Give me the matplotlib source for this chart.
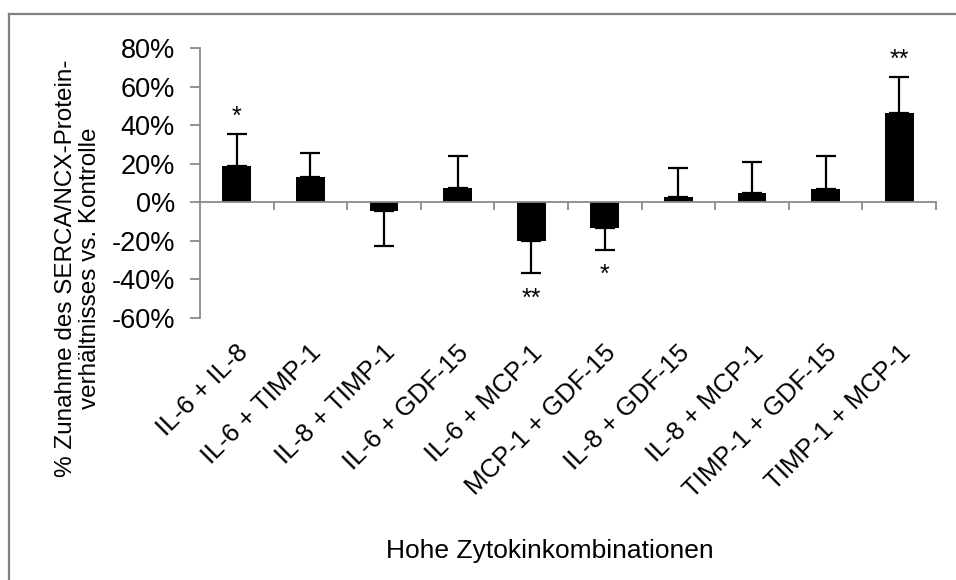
import matplotlib.pyplot as plt
from matplotlib.lines import Line2D
import matplotlib.transforms as mtransforms

plt.rcParams['font.family'] = ['Liberation Sans', 'DejaVu Sans']

# Zytokinkombinationen und Zunahme SERCA/NCX (%), Mittelwert + SEM
kombinationen = ['IL-6 + IL-8', 'IL-6 + TIMP-1', 'IL-8 + TIMP-1', 'IL-6 + GDF-15',
                 'IL-6 + MCP-1', 'MCP-1 + GDF-15', 'IL-8 + GDF-15', 'IL-8 + MCP-1',
                 'TIMP-1 + GDF-15', 'TIMP-1 + MCP-1']
mittelwert = [18.9, 13.1, -4.5, 7.6, -20.1, -13.5, 3.0, 5.0, 6.9, 46.4]
sem = [16.4, 12.7, 18.2, 16.4, 16.8, 11.3, 14.8, 16.1, 17.1, 18.7]
signifikanz = ['*', '', '', '', '**', '*', '', '', '', '**']
yticks = [-60, -40, -20, 0, 20, 40, 60, 80]

fig = plt.figure(figsize=(9.56, 5.8), dpi=100)
ax = fig.add_axes([0.2092, 0.4517, 0.7699, 0.4655])

grau = '#8a8a8a'
x = list(range(len(kombinationen)))

# Fehlerbalken nur in Richtung des Balkens
lower = [s if m < 0 else 0 for m, s in zip(mittelwert, sem)]
upper = [s if m >= 0 else 0 for m, s in zip(mittelwert, sem)]
ax.bar(x, mittelwert, width=0.39, color='black', linewidth=0, zorder=2)
ax.errorbar(x, mittelwert, yerr=[lower, upper], fmt='none', ecolor='black',
            elinewidth=1.6, capsize=7.5, capthick=1.6, zorder=3)

# Sternchen über / unter den Fehlerbalken
for xi, m, s, sig in zip(x, mittelwert, sem, signifikanz):
    if not sig:
        continue
    if m >= 0:
        ax.text(xi, m + s + 9, sig, ha='center', va='center', fontsize=18)
    else:
        ax.text(xi, m - s - 13, sig, ha='center', va='center', fontsize=18)

ax.set_xlim(-0.5, len(kombinationen) - 0.5)
ax.set_ylim(-60, 80)
ax.set_yticks(yticks)
ax.set_yticklabels([f'{v}%' for v in yticks], fontsize=19.5)
ax.tick_params(axis='y', direction='out', length=7, width=1.3, color=grau, pad=11)

# x-Achse bei 0 mit Strichen zwischen den Kategorien
ax.spines['bottom'].set_position(('data', 0))
ax.set_xticks([i + 0.5 for i in x])
ax.set_xticklabels([])
ax.tick_params(axis='x', direction='out', length=6, width=1.3, color=grau)
for side in ['top', 'right']:
    ax.spines[side].set_visible(False)
for side in ['left', 'bottom']:
    ax.spines[side].set_color(grau)
    ax.spines[side].set_linewidth(1.3)

# Kategoriebeschriftungen unterhalb der Achsenfläche
trans = mtransforms.blended_transform_factory(ax.transData, ax.transAxes)
for xi, name in zip(x, kombinationen):
    ax.text(xi + 0.1, -0.115, name, transform=trans, rotation=45,
            rotation_mode='anchor', ha='right', va='center', fontsize=18.5)

fig.text(78 / 956, 1 - 268 / 580,
         '% Zunahme des SERCA/NCX-Protein-\nverhältnisses vs. Kontrolle',
         rotation=90, ha='center', va='center', multialignment='center',
         fontsize=17.5, linespacing=1.1)
fig.text(550 / 956, 1 - 551 / 580, 'Hohe Zytokinkombinationen',
         ha='center', va='center', fontsize=19)

# Rahmen oben und links
fig.add_artist(Line2D([9 / 956, 1], [1 - 14 / 580, 1 - 14 / 580],
                      transform=fig.transFigure, color='#808080', linewidth=1.6))
fig.add_artist(Line2D([9 / 956, 9 / 956], [0, 1 - 14 / 580],
                      transform=fig.transFigure, color='#808080', linewidth=1.6))

fig.savefig('out.png', dpi=100)
